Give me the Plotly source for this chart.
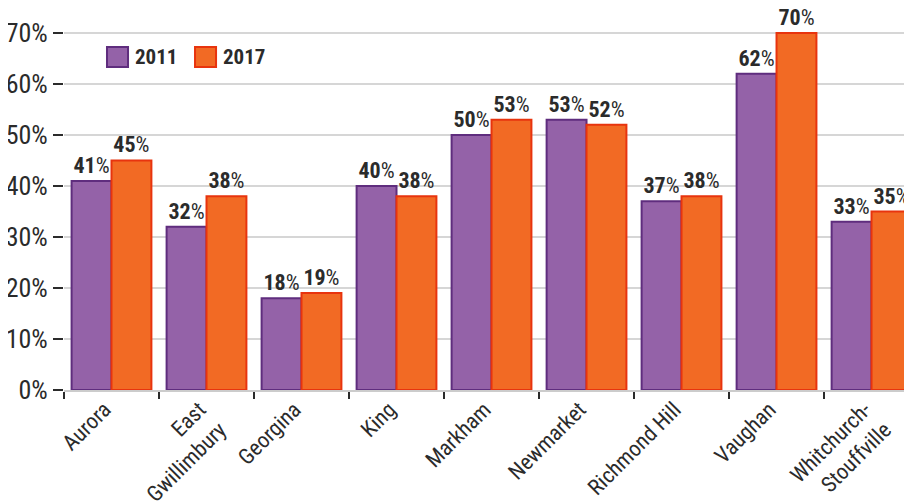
import plotly.graph_objs as go

# DATA
towns = ['Aurora', 'East<br>Gwillimbury', 'Georgina', 'King', 'Markham', 'Newmarket',
         'Richmond Hill', 'Vaughan', 'Whitchurch-<br>Stouffville']
share_2011 = [41, 32, 18, 40, 50, 53, 37, 62, 33]
share_2017 = [45, 38, 19, 38, 53, 52, 38, 70, 35]
y_ticks = [0, 10, 20, 30, 40, 50, 60, 70]
y_tick_labels = ['0%', '10%', '20%', '30%', '40%', '50%', '60%', '70%']

FONT = 'Roboto Condensed, Liberation Sans Narrow, DejaVu Sans Condensed, Roboto, sans-serif'
DARK = '#2b2b2b'
PURPLE, PURPLE_EDGE = '#9462a8', '#5f2d7e'
ORANGE, ORANGE_EDGE = '#f26a24', '#e8340e'

fig = go.Figure()
fig.add_trace(go.Bar(x=towns, y=share_2011, name='2011',
                     marker=dict(color=PURPLE, line=dict(color=PURPLE_EDGE, width=2)),
                     text=share_2011, texttemplate='<b>%{text}</b>%', textposition='outside',
                     textfont=dict(size=22, color=DARK), cliponaxis=False))
fig.add_trace(go.Bar(x=towns, y=share_2017, name='2017',
                     marker=dict(color=ORANGE, line=dict(color=ORANGE_EDGE, width=2)),
                     text=share_2017, texttemplate='<b>%{text}</b>%', textposition='outside',
                     textfont=dict(size=22, color=DARK), cliponaxis=False))

# legend drawn by hand (bigger squares than plotly's legend)
for x0, col, edge, lab in [(0.0507, PURPLE, PURPLE_EDGE, '2011'), (0.1545, ORANGE, ORANGE_EDGE, '2017')]:
    fig.add_shape(type='rect', xref='paper', yref='paper', x0=x0, x1=x0 + 0.0248,
                  y0=0.8455, y1=0.898, fillcolor=col, line=dict(color=edge, width=2))
    fig.add_annotation(xref='paper', yref='paper', x=x0 + 0.031, y=0.872, text='<b>' + lab + '</b>',
                       showarrow=False, xanchor='left', yanchor='middle',
                       font=dict(size=21, color=DARK))

# page body adds an 8px offset, so the figure is 8px smaller than the window
fig.update_layout(
    width=904, height=496,
    margin=dict(l=56, r=0, t=0, b=114),
    paper_bgcolor='white', plot_bgcolor='white',
    font=dict(family=FONT, color=DARK),
    barmode='group', bargap=0.16, bargroupgap=0,
    showlegend=False,
    xaxis=dict(range=[-0.5, 8.426], tickson='boundaries', ticks='outside', ticklen=7,
               tickcolor=DARK, tickwidth=2, tickangle=-45, tickfont=dict(size=22, color=DARK),
               ticklabelshift=-7, ticklabelstandoff=-4,
               showline=True, linecolor='#cccccc', linewidth=2, showgrid=False, automargin=False),
    yaxis=dict(range=[0, 74.9], tickvals=y_ticks, ticktext=y_tick_labels, ticks='outside',
               ticklen=10, tickcolor=DARK, tickwidth=2, tickfont=dict(size=26, color=DARK),
               showgrid=True, gridcolor='#d6d6d6', gridwidth=2, zeroline=False, showline=False,
               automargin=False),
)

fig.write_html("out.html")
